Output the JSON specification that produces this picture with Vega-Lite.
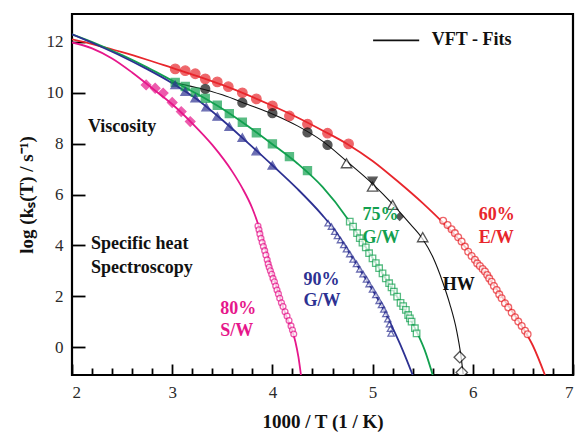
{
  "$schema": "https://vega.github.io/schema/vega-lite/v6.json",
  "width": 501,
  "height": 361,
  "autosize": {"type": "none"},
  "padding": {"left": 72, "top": 14, "right": 6, "bottom": 57},
  "config": {
    "view": {"stroke": "black", "strokeWidth": 2.2},
    "font": "Liberation Serif",
    "axis": {"labelFont": "Liberation Serif", "titleFont": "Liberation Serif", "grid": false, "domain": false, "tickColor": "black", "tickWidth": 1.8, "labelColor": "#2a2a2a", "labelFontSize": 17, "titleFontSize": 19, "titleFontWeight": "bold", "titleColor": "#111"}
  },
  "datasets": {
    "curves": [
      {"series": "60% E/W", "x": 2.0, "y": 12.1}, {"series": "60% E/W", "x": 2.25, "y": 11.87}, {"series": "60% E/W", "x": 2.5, "y": 11.6}, {"series": "60% E/W", "x": 2.75, "y": 11.3}, {"series": "60% E/W", "x": 3.0, "y": 10.98}, {"series": "60% E/W", "x": 3.25, "y": 10.66}, {"series": "60% E/W", "x": 3.5, "y": 10.31}, {"series": "60% E/W", "x": 3.75, "y": 9.92}, {"series": "60% E/W", "x": 4.0, "y": 9.49}, {"series": "60% E/W", "x": 4.25, "y": 9.03}, {"series": "60% E/W", "x": 4.5, "y": 8.52}, {"series": "60% E/W", "x": 4.75, "y": 7.98}, {"series": "60% E/W", "x": 5.0, "y": 7.32}, {"series": "60% E/W", "x": 5.25, "y": 6.52}, {"series": "60% E/W", "x": 5.5, "y": 5.66}, {"series": "60% E/W", "x": 5.7, "y": 4.9}, {"series": "60% E/W", "x": 5.9, "y": 4.05}, {"series": "60% E/W", "x": 6.1, "y": 3.05}, {"series": "60% E/W", "x": 6.3, "y": 1.93}, {"series": "60% E/W", "x": 6.5, "y": 0.75}, {"series": "60% E/W", "x": 6.6, "y": 0.05}, {"series": "60% E/W", "x": 6.72, "y": -1.1},
      {"series": "HW", "x": 2.98, "y": 10.43}, {"series": "HW", "x": 3.25, "y": 10.2}, {"series": "HW", "x": 3.5, "y": 9.92}, {"series": "HW", "x": 3.75, "y": 9.55}, {"series": "HW", "x": 4.0, "y": 9.17}, {"series": "HW", "x": 4.25, "y": 8.7}, {"series": "HW", "x": 4.5, "y": 8.1}, {"series": "HW", "x": 4.75, "y": 7.28}, {"series": "HW", "x": 5.0, "y": 6.42}, {"series": "HW", "x": 5.2, "y": 5.62}, {"series": "HW", "x": 5.35, "y": 4.95}, {"series": "HW", "x": 5.5, "y": 4.25}, {"series": "HW", "x": 5.6, "y": 3.55}, {"series": "HW", "x": 5.7, "y": 2.55}, {"series": "HW", "x": 5.77, "y": 1.7}, {"series": "HW", "x": 5.84, "y": 0.62}, {"series": "HW", "x": 5.88, "y": -0.3}, {"series": "HW", "x": 5.905, "y": -1.1},
      {"series": "75% G/W", "x": 2.0, "y": 12.3}, {"series": "75% G/W", "x": 2.25, "y": 11.92}, {"series": "75% G/W", "x": 2.5, "y": 11.48}, {"series": "75% G/W", "x": 2.75, "y": 11.0}, {"series": "75% G/W", "x": 3.0, "y": 10.48}, {"series": "75% G/W", "x": 3.25, "y": 9.95}, {"series": "75% G/W", "x": 3.5, "y": 9.37}, {"series": "75% G/W", "x": 3.75, "y": 8.7}, {"series": "75% G/W", "x": 4.0, "y": 7.98}, {"series": "75% G/W", "x": 4.25, "y": 7.22}, {"series": "75% G/W", "x": 4.5, "y": 6.3}, {"series": "75% G/W", "x": 4.75, "y": 5.05}, {"series": "75% G/W", "x": 4.85, "y": 4.45}, {"series": "75% G/W", "x": 5.0, "y": 3.5}, {"series": "75% G/W", "x": 5.1, "y": 2.88}, {"series": "75% G/W", "x": 5.2, "y": 2.26}, {"series": "75% G/W", "x": 5.3, "y": 1.62}, {"series": "75% G/W", "x": 5.4, "y": 0.92}, {"series": "75% G/W", "x": 5.45, "y": 0.52}, {"series": "75% G/W", "x": 5.52, "y": -0.12}, {"series": "75% G/W", "x": 5.6, "y": -1.1},
      {"series": "90% G/W", "x": 2.0, "y": 12.3}, {"series": "90% G/W", "x": 2.25, "y": 11.88}, {"series": "90% G/W", "x": 2.5, "y": 11.43}, {"series": "90% G/W", "x": 2.75, "y": 10.93}, {"series": "90% G/W", "x": 3.0, "y": 10.38}, {"series": "90% G/W", "x": 3.25, "y": 9.74}, {"series": "90% G/W", "x": 3.5, "y": 8.93}, {"series": "90% G/W", "x": 3.75, "y": 8.05}, {"series": "90% G/W", "x": 4.0, "y": 7.15}, {"series": "90% G/W", "x": 4.25, "y": 6.22}, {"series": "90% G/W", "x": 4.5, "y": 5.18}, {"series": "90% G/W", "x": 4.6, "y": 4.7}, {"series": "90% G/W", "x": 4.7, "y": 4.12}, {"series": "90% G/W", "x": 4.8, "y": 3.5}, {"series": "90% G/W", "x": 4.9, "y": 2.88}, {"series": "90% G/W", "x": 5.0, "y": 2.24}, {"series": "90% G/W", "x": 5.1, "y": 1.55}, {"series": "90% G/W", "x": 5.2, "y": 0.75}, {"series": "90% G/W", "x": 5.3, "y": -0.12}, {"series": "90% G/W", "x": 5.4, "y": -1.1},
      {"series": "80% S/W", "x": 2.0, "y": 11.98}, {"series": "80% S/W", "x": 2.2, "y": 11.75}, {"series": "80% S/W", "x": 2.4, "y": 11.35}, {"series": "80% S/W", "x": 2.6, "y": 10.8}, {"series": "80% S/W", "x": 2.8, "y": 10.18}, {"series": "80% S/W", "x": 3.0, "y": 9.55}, {"series": "80% S/W", "x": 3.2, "y": 8.8}, {"series": "80% S/W", "x": 3.4, "y": 7.95}, {"series": "80% S/W", "x": 3.6, "y": 6.9}, {"series": "80% S/W", "x": 3.7, "y": 6.25}, {"series": "80% S/W", "x": 3.8, "y": 5.45}, {"series": "80% S/W", "x": 3.86, "y": 4.8}, {"series": "80% S/W", "x": 3.9, "y": 4.25}, {"series": "80% S/W", "x": 3.95, "y": 3.58}, {"series": "80% S/W", "x": 4.0, "y": 2.9}, {"series": "80% S/W", "x": 4.05, "y": 2.27}, {"series": "80% S/W", "x": 4.1, "y": 1.65}, {"series": "80% S/W", "x": 4.15, "y": 1.1}, {"series": "80% S/W", "x": 4.2, "y": 0.62}, {"series": "80% S/W", "x": 4.23, "y": 0.2}, {"series": "80% S/W", "x": 4.26, "y": -0.4}, {"series": "80% S/W", "x": 4.285, "y": -1.1}
    ],
    "points": [
      {"kind": "E/W viscosity", "x": 3.03, "y": 10.94}, {"kind": "E/W viscosity", "x": 3.13, "y": 10.87}, {"kind": "E/W viscosity", "x": 3.23, "y": 10.75}, {"kind": "E/W viscosity", "x": 3.33, "y": 10.55}, {"kind": "E/W viscosity", "x": 3.45, "y": 10.43}, {"kind": "E/W viscosity", "x": 3.56, "y": 10.24}, {"kind": "E/W viscosity", "x": 3.70, "y": 10.0}, {"kind": "E/W viscosity", "x": 3.84, "y": 9.76}, {"kind": "E/W viscosity", "x": 4.0, "y": 9.49}, {"kind": "E/W viscosity", "x": 4.17, "y": 9.09}, {"kind": "E/W viscosity", "x": 4.35, "y": 8.77}, {"kind": "E/W viscosity", "x": 4.55, "y": 8.41}, {"kind": "E/W viscosity", "x": 4.76, "y": 7.99},
      {"kind": "E/W spectroscopy", "x": 5.704, "y": 4.97}, {"kind": "E/W spectroscopy", "x": 5.748, "y": 4.8}, {"kind": "E/W spectroscopy", "x": 5.788, "y": 4.63}, {"kind": "E/W spectroscopy", "x": 5.821, "y": 4.48}, {"kind": "E/W spectroscopy", "x": 5.854, "y": 4.32}, {"kind": "E/W spectroscopy", "x": 5.888, "y": 4.15}, {"kind": "E/W spectroscopy", "x": 5.921, "y": 3.95}, {"kind": "E/W spectroscopy", "x": 5.954, "y": 3.75}, {"kind": "E/W spectroscopy", "x": 5.988, "y": 3.58}, {"kind": "E/W spectroscopy", "x": 6.021, "y": 3.43}, {"kind": "E/W spectroscopy", "x": 6.044, "y": 3.29}, {"kind": "E/W spectroscopy", "x": 6.071, "y": 3.19}, {"kind": "E/W spectroscopy", "x": 6.098, "y": 3.07}, {"kind": "E/W spectroscopy", "x": 6.121, "y": 2.97}, {"kind": "E/W spectroscopy", "x": 6.144, "y": 2.83}, {"kind": "E/W spectroscopy", "x": 6.164, "y": 2.7}, {"kind": "E/W spectroscopy", "x": 6.188, "y": 2.57}, {"kind": "E/W spectroscopy", "x": 6.211, "y": 2.4}, {"kind": "E/W spectroscopy", "x": 6.238, "y": 2.24}, {"kind": "E/W spectroscopy", "x": 6.264, "y": 2.07}, {"kind": "E/W spectroscopy", "x": 6.288, "y": 1.92}, {"kind": "E/W spectroscopy", "x": 6.321, "y": 1.72}, {"kind": "E/W spectroscopy", "x": 6.354, "y": 1.56}, {"kind": "E/W spectroscopy", "x": 6.388, "y": 1.35}, {"kind": "E/W spectroscopy", "x": 6.421, "y": 1.17}, {"kind": "E/W spectroscopy", "x": 6.454, "y": 1.0}, {"kind": "E/W spectroscopy", "x": 6.488, "y": 0.83}, {"kind": "E/W spectroscopy", "x": 6.521, "y": 0.64}, {"kind": "E/W spectroscopy", "x": 6.547, "y": 0.5},
      {"kind": "HW viscosity", "x": 3.33, "y": 10.15}, {"kind": "HW viscosity", "x": 3.70, "y": 9.61}, {"kind": "HW viscosity", "x": 4.0, "y": 9.2}, {"kind": "HW viscosity", "x": 4.35, "y": 8.44}, {"kind": "HW viscosity", "x": 4.55, "y": 7.95},
      {"kind": "HW open triangle", "x": 4.74, "y": 7.23}, {"kind": "HW open triangle", "x": 5.0, "y": 6.31}, {"kind": "HW open triangle", "x": 5.2, "y": 5.59}, {"kind": "HW open triangle", "x": 5.5, "y": 4.32},
      {"kind": "HW filled down triangle", "x": 5.0, "y": 6.53},
      {"kind": "HW filled diamond", "x": 5.27, "y": 5.13},
      {"kind": "HW open diamond", "x": 5.87, "y": -0.4}, {"kind": "HW open diamond", "x": 5.89, "y": -1.0},
      {"kind": "75% G/W viscosity", "x": 3.03, "y": 10.41}, {"kind": "75% G/W viscosity", "x": 3.13, "y": 10.25}, {"kind": "75% G/W viscosity", "x": 3.23, "y": 10.02}, {"kind": "75% G/W viscosity", "x": 3.33, "y": 9.78}, {"kind": "75% G/W viscosity", "x": 3.45, "y": 9.51}, {"kind": "75% G/W viscosity", "x": 3.57, "y": 9.18}, {"kind": "75% G/W viscosity", "x": 3.70, "y": 8.84}, {"kind": "75% G/W viscosity", "x": 3.84, "y": 8.43}, {"kind": "75% G/W viscosity", "x": 4.0, "y": 7.99}, {"kind": "75% G/W viscosity", "x": 4.17, "y": 7.49}, {"kind": "75% G/W viscosity", "x": 4.35, "y": 6.94},
      {"kind": "75% G/W spectroscopy", "x": 4.772, "y": 4.93}, {"kind": "75% G/W spectroscopy", "x": 4.805, "y": 4.74}, {"kind": "75% G/W spectroscopy", "x": 4.845, "y": 4.48}, {"kind": "75% G/W spectroscopy", "x": 4.872, "y": 4.28}, {"kind": "75% G/W spectroscopy", "x": 4.899, "y": 4.11}, {"kind": "75% G/W spectroscopy", "x": 4.932, "y": 3.92}, {"kind": "75% G/W spectroscopy", "x": 4.965, "y": 3.69}, {"kind": "75% G/W spectroscopy", "x": 4.999, "y": 3.49}, {"kind": "75% G/W spectroscopy", "x": 5.032, "y": 3.3}, {"kind": "75% G/W spectroscopy", "x": 5.065, "y": 3.1}, {"kind": "75% G/W spectroscopy", "x": 5.099, "y": 2.9}, {"kind": "75% G/W spectroscopy", "x": 5.132, "y": 2.7}, {"kind": "75% G/W spectroscopy", "x": 5.165, "y": 2.51}, {"kind": "75% G/W spectroscopy", "x": 5.189, "y": 2.35}, {"kind": "75% G/W spectroscopy", "x": 5.212, "y": 2.18}, {"kind": "75% G/W spectroscopy", "x": 5.245, "y": 1.98}, {"kind": "75% G/W spectroscopy", "x": 5.279, "y": 1.74}, {"kind": "75% G/W spectroscopy", "x": 5.305, "y": 1.61}, {"kind": "75% G/W spectroscopy", "x": 5.332, "y": 1.46}, {"kind": "75% G/W spectroscopy", "x": 5.355, "y": 1.26}, {"kind": "75% G/W spectroscopy", "x": 5.372, "y": 1.13}, {"kind": "75% G/W spectroscopy", "x": 5.389, "y": 1.0}, {"kind": "75% G/W spectroscopy", "x": 5.422, "y": 0.74}, {"kind": "75% G/W spectroscopy", "x": 5.439, "y": 0.54},
      {"kind": "90% G/W viscosity", "x": 3.03, "y": 10.31}, {"kind": "90% G/W viscosity", "x": 3.13, "y": 10.05}, {"kind": "90% G/W viscosity", "x": 3.23, "y": 9.79}, {"kind": "90% G/W viscosity", "x": 3.34, "y": 9.44}, {"kind": "90% G/W viscosity", "x": 3.45, "y": 9.07}, {"kind": "90% G/W viscosity", "x": 3.57, "y": 8.67}, {"kind": "90% G/W viscosity", "x": 3.70, "y": 8.24}, {"kind": "90% G/W viscosity", "x": 3.84, "y": 7.71}, {"kind": "90% G/W viscosity", "x": 4.0, "y": 7.15},
      {"kind": "90% G/W spectroscopy", "x": 4.556, "y": 4.87}, {"kind": "90% G/W spectroscopy", "x": 4.589, "y": 4.74}, {"kind": "90% G/W spectroscopy", "x": 4.622, "y": 4.54}, {"kind": "90% G/W spectroscopy", "x": 4.649, "y": 4.37}, {"kind": "90% G/W spectroscopy", "x": 4.679, "y": 4.21}, {"kind": "90% G/W spectroscopy", "x": 4.712, "y": 4.02}, {"kind": "90% G/W spectroscopy", "x": 4.739, "y": 3.85}, {"kind": "90% G/W spectroscopy", "x": 4.772, "y": 3.66}, {"kind": "90% G/W spectroscopy", "x": 4.805, "y": 3.45}, {"kind": "90% G/W spectroscopy", "x": 4.839, "y": 3.27}, {"kind": "90% G/W spectroscopy", "x": 4.872, "y": 3.06}, {"kind": "90% G/W spectroscopy", "x": 4.905, "y": 2.87}, {"kind": "90% G/W spectroscopy", "x": 4.939, "y": 2.66}, {"kind": "90% G/W spectroscopy", "x": 4.965, "y": 2.48}, {"kind": "90% G/W spectroscopy", "x": 4.999, "y": 2.27}, {"kind": "90% G/W spectroscopy", "x": 5.032, "y": 2.05}, {"kind": "90% G/W spectroscopy", "x": 5.065, "y": 1.82}, {"kind": "90% G/W spectroscopy", "x": 5.089, "y": 1.66}, {"kind": "90% G/W spectroscopy", "x": 5.112, "y": 1.48}, {"kind": "90% G/W spectroscopy", "x": 5.132, "y": 1.3}, {"kind": "90% G/W spectroscopy", "x": 5.152, "y": 1.1}, {"kind": "90% G/W spectroscopy", "x": 5.168, "y": 0.9}, {"kind": "90% G/W spectroscopy", "x": 5.178, "y": 0.72}, {"kind": "90% G/W spectroscopy", "x": 5.185, "y": 0.54},
      {"kind": "S/W viscosity", "x": 2.74, "y": 10.31}, {"kind": "S/W viscosity", "x": 2.83, "y": 10.18}, {"kind": "S/W viscosity", "x": 2.91, "y": 9.99}, {"kind": "S/W viscosity", "x": 3.0, "y": 9.62}, {"kind": "S/W viscosity", "x": 3.09, "y": 9.26}, {"kind": "S/W viscosity", "x": 3.18, "y": 8.87},
      {"kind": "S/W spectroscopy", "x": 3.856, "y": 4.76}, {"kind": "S/W spectroscopy", "x": 3.866, "y": 4.61}, {"kind": "S/W spectroscopy", "x": 3.875, "y": 4.45}, {"kind": "S/W spectroscopy", "x": 3.886, "y": 4.28}, {"kind": "S/W spectroscopy", "x": 3.898, "y": 4.11}, {"kind": "S/W spectroscopy", "x": 3.91, "y": 3.95}, {"kind": "S/W spectroscopy", "x": 3.923, "y": 3.79}, {"kind": "S/W spectroscopy", "x": 3.935, "y": 3.62}, {"kind": "S/W spectroscopy", "x": 3.948, "y": 3.43}, {"kind": "S/W spectroscopy", "x": 3.958, "y": 3.27}, {"kind": "S/W spectroscopy", "x": 3.968, "y": 3.14}, {"kind": "S/W spectroscopy", "x": 3.98, "y": 3.0}, {"kind": "S/W spectroscopy", "x": 3.993, "y": 2.86}, {"kind": "S/W spectroscopy", "x": 4.006, "y": 2.7}, {"kind": "S/W spectroscopy", "x": 4.02, "y": 2.57}, {"kind": "S/W spectroscopy", "x": 4.033, "y": 2.4}, {"kind": "S/W spectroscopy", "x": 4.046, "y": 2.24}, {"kind": "S/W spectroscopy", "x": 4.06, "y": 2.09}, {"kind": "S/W spectroscopy", "x": 4.073, "y": 1.92}, {"kind": "S/W spectroscopy", "x": 4.09, "y": 1.74}, {"kind": "S/W spectroscopy", "x": 4.106, "y": 1.59}, {"kind": "S/W spectroscopy", "x": 4.126, "y": 1.39}, {"kind": "S/W spectroscopy", "x": 4.146, "y": 1.22}, {"kind": "S/W spectroscopy", "x": 4.166, "y": 1.04}, {"kind": "S/W spectroscopy", "x": 4.186, "y": 0.83}, {"kind": "S/W spectroscopy", "x": 4.2, "y": 0.67}, {"kind": "S/W spectroscopy", "x": 4.213, "y": 0.51}
    ],
    "labels": [
      {"text": "Viscosity", "series": "note", "x": 2.16, "y": 8.67},
      {"text": "Specific heat", "series": "note", "x": 2.19, "y": 4.04},
      {"text": "Spectroscopy", "series": "note", "x": 2.19, "y": 3.12},
      {"text": "80%", "series": "80% S/W", "x": 3.48, "y": 1.5},
      {"text": "S/W", "series": "80% S/W", "x": 3.48, "y": 0.64},
      {"text": "90%", "series": "90% G/W", "x": 4.31, "y": 2.64},
      {"text": "G/W", "series": "90% G/W", "x": 4.31, "y": 1.8},
      {"text": "75%", "series": "75% G/W", "x": 4.9, "y": 5.2},
      {"text": "G/W", "series": "75% G/W", "x": 4.9, "y": 4.3},
      {"text": "HW", "series": "HW", "x": 5.7, "y": 2.44},
      {"text": "60%", "series": "60% E/W", "x": 6.06, "y": 5.2},
      {"text": "E/W", "series": "60% E/W", "x": 6.06, "y": 4.3},
      {"text": "VFT - Fits", "series": "note", "x": 5.59, "y": 12.06}
    ],
    "key": [{"x": 5.005, "x2": 5.465, "y": 12.06}]
  },
  "layer": [
    {
      "data": {"name": "curves"},
      "mark": {"type": "line", "interpolate": "monotone", "clip": true},
      "encoding": {
        "x": {"field": "x", "type": "quantitative", "scale": {"domain": [2, 7], "nice": false, "zero": false}, "axis": {"orient": "bottom", "values": [2, 3, 4, 5, 6, 7], "tickSize": -11, "labelPadding": 20, "title": "1000 / T  (1 / K)", "titlePadding": 12}},
        "y": {"field": "y", "type": "quantitative", "scale": {"domain": [-1.1, 13.1], "nice": false, "zero": false}, "axis": {"values": [0, 2, 4, 6, 8, 10, 12], "tickSize": -13, "labelPadding": 22, "title": "log (kₛ(T) / s⁻¹)", "titlePadding": 10}},
        "detail": {"field": "series", "type": "nominal"},
        "color": {"field": "series", "type": "nominal", "scale": {"domain": ["60% E/W", "HW", "75% G/W", "90% G/W", "80% S/W", "note"], "range": ["#e8262c", "#111111", "#12a04f", "#2d3192", "#e6178b", "#111111"]}, "legend": null},
        "strokeWidth": {"field": "series", "type": "nominal", "scale": {"type": "ordinal", "domain": ["60% E/W", "HW", "75% G/W", "90% G/W", "80% S/W"], "range": [1.8, 1.1, 1.8, 1.8, 1.8]}, "legend": null}
      }
    },
    {
      "data": {"name": "curves"},
      "mark": {"type": "point", "opacity": 0},
      "encoding": {
        "x": {"field": "x", "type": "quantitative", "scale": {"domain": [2, 7], "nice": false, "zero": false}, "axis": {"orient": "bottom", "values": [2.2, 2.4, 2.6, 2.8, 3.2, 3.4, 3.6, 3.8, 4.2, 4.4, 4.6, 4.8, 5.2, 5.4, 5.6, 5.8, 6.2, 6.4, 6.6, 6.8], "tickSize": -7, "labels": false, "title": null}},
        "y": {"field": "y", "type": "quantitative"}
      }
    },
    {
      "data": {"name": "points"},
      "mark": {"type": "point", "filled": true, "strokeWidth": 1.3, "clip": true},
      "encoding": {
        "x": {"field": "x", "type": "quantitative", "axis": null},
        "y": {"field": "y", "type": "quantitative"},
        "shape": {"field": "kind", "type": "nominal", "scale": {"domain": ["E/W viscosity", "E/W spectroscopy", "HW viscosity", "HW open triangle", "HW filled down triangle", "HW filled diamond", "HW open diamond", "75% G/W viscosity", "75% G/W spectroscopy", "90% G/W viscosity", "90% G/W spectroscopy", "S/W viscosity", "S/W spectroscopy"], "range": ["circle", "circle", "circle", "triangle-up", "triangle-down", "diamond", "diamond", "square", "square", "triangle-up", "triangle-up", "diamond", "circle"]}, "legend": null},
        "size": {"field": "kind", "type": "nominal", "scale": {"type": "ordinal", "domain": ["E/W viscosity", "E/W spectroscopy", "HW viscosity", "HW open triangle", "HW filled down triangle", "HW filled diamond", "HW open diamond", "75% G/W viscosity", "75% G/W spectroscopy", "90% G/W viscosity", "90% G/W spectroscopy", "S/W viscosity", "S/W spectroscopy"], "range": [90, 46, 80, 110, 80, 55, 130, 65, 42, 75, 40, 90, 34]}, "legend": null},
        "stroke": {"field": "kind", "type": "nominal", "scale": {"domain": ["E/W viscosity", "E/W spectroscopy", "HW viscosity", "HW open triangle", "HW filled down triangle", "HW filled diamond", "HW open diamond", "75% G/W viscosity", "75% G/W spectroscopy", "90% G/W viscosity", "90% G/W spectroscopy", "S/W viscosity", "S/W spectroscopy"], "range": ["#e8262c", "#e8262c", "#111111", "#111111", "#111111", "#111111", "#111111", "#12a04f", "#12a04f", "#2d3192", "#2d3192", "#e6178b", "#e6178b"]}, "legend": null},
        "fill": {"field": "kind", "type": "nominal", "scale": {"domain": ["E/W viscosity", "E/W spectroscopy", "HW viscosity", "HW open triangle", "HW filled down triangle", "HW filled diamond", "HW open diamond", "75% G/W viscosity", "75% G/W spectroscopy", "90% G/W viscosity", "90% G/W spectroscopy", "S/W viscosity", "S/W spectroscopy"], "range": ["#e8262c", "#ffffff", "#111111", "#ffffff", "#111111", "#111111", "#ffffff", "#12a04f", "#ffffff", "#2d3192", "#ffffff", "#e6178b", "#ffffff"]}, "legend": null}
      }
    },
    {
      "data": {"name": "key"},
      "mark": {"type": "rule", "color": "#111111", "strokeWidth": 1.8},
      "encoding": {
        "x": {"field": "x", "type": "quantitative", "axis": null},
        "x2": {"field": "x2"},
        "y": {"field": "y", "type": "quantitative"}
      }
    },
    {
      "data": {"name": "labels"},
      "mark": {"type": "text", "align": "left", "baseline": "middle", "font": "Liberation Serif", "fontWeight": "bold", "fontSize": 18},
      "encoding": {
        "x": {"field": "x", "type": "quantitative", "axis": null},
        "y": {"field": "y", "type": "quantitative"},
        "text": {"field": "text"},
        "color": {"field": "series", "type": "nominal", "legend": null}
      }
    }
  ],
  "resolve": {"axis": {"x": "independent"}}
}
